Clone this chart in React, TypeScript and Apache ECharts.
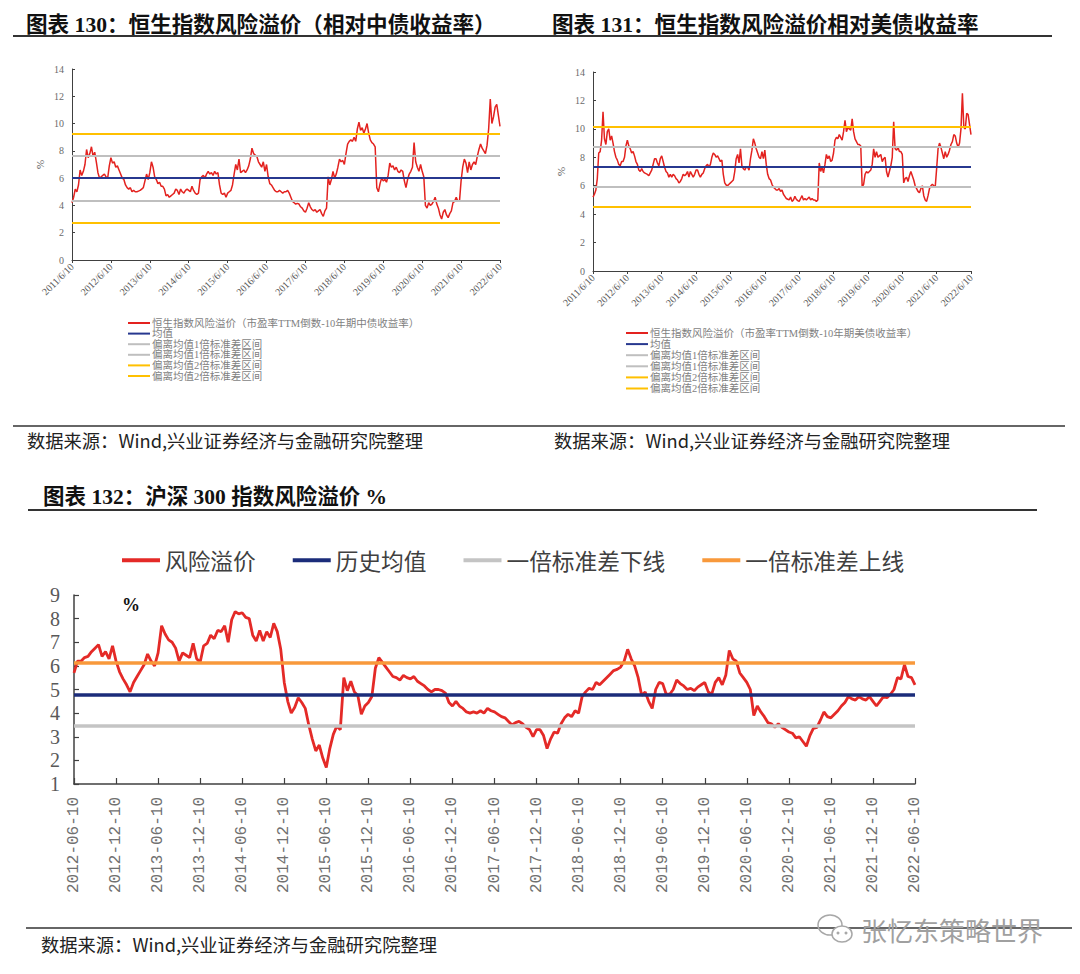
import React, { useEffect, useRef } from 'react';
import * as echarts from 'echarts';

// ---------- data ----------
// HSI risk premium vs 10Y China govt bond yield (semi-monthly, 2011/6/10 .. 2022/6/10)
const HK_CN: number[] = [
  4.2, 4.6, 5.2, 5.0, 5.5, 6.6, 6.2, 6.5, 7.0, 8.1,
  7.5, 7.8, 8.3, 7.6, 7.9, 7.2, 6.4, 6.0, 6.1, 6.2,
  6.3, 6.1, 6.0, 6.9, 7.5, 7.1, 7.2, 6.8, 6.9, 6.6,
  6.3, 6.0, 5.9, 5.5, 5.3, 5.2, 5.3, 5.0, 5.1, 5.0,
  5.0, 5.05, 5.1, 5.2, 5.3, 5.8, 6.3, 5.9, 6.4, 7.2,
  6.8, 6.1, 5.9, 5.6, 5.7, 5.4, 5.4, 5.2, 4.7, 4.8,
  4.6, 4.7, 4.8, 4.9, 5.2, 5.1, 4.8, 5.2, 5.0, 4.9,
  5.1, 5.2, 5.1, 5.0, 5.4, 5.1, 4.9, 4.8, 4.9, 5.9,
  6.1, 6.2, 6.0, 6.3, 6.5, 6.3, 6.4, 6.2, 6.5, 6.3,
  6.4, 5.5, 4.9, 4.8, 4.9, 4.6, 4.9, 5.0, 5.1, 5.5,
  6.3, 7.0, 6.6, 7.4, 6.4, 6.5, 6.6, 6.4, 6.6, 6.9,
  7.4, 8.2, 7.8, 7.7, 7.6, 7.2, 7.0, 6.8, 7.2, 6.5,
  7.0, 6.1, 5.6, 5.5, 5.3, 5.1, 5.0, 5.0, 5.1, 5.0,
  4.9, 5.0, 5.0, 5.1, 4.9, 4.6, 4.3, 4.2, 4.1, 4.15,
  4.1, 3.9, 3.8, 3.6, 3.5, 3.8, 4.2, 3.9, 3.7, 3.6,
  3.7, 3.5, 3.6, 3.7, 3.4, 3.2, 3.6, 3.8, 6.1, 5.5,
  5.9, 6.5, 6.0, 6.3, 6.8, 7.4, 7.2, 7.3, 7.0, 7.8,
  8.5, 8.7, 8.8, 8.7, 9.0, 8.7, 9.6, 10.1, 9.5, 9.7,
  9.3, 9.6, 10.0, 9.3, 8.8, 8.6, 8.5, 8.3, 5.3, 5.0,
  5.6, 6.0, 5.8, 5.9, 5.7, 6.2, 7.1, 6.8, 6.9, 6.6,
  6.8, 6.5, 6.4, 6.6, 6.5, 5.8, 5.3, 5.9, 6.3, 6.5,
  6.8, 8.6, 7.2, 6.8, 6.5, 7.0, 6.5, 6.1, 4.0, 3.8,
  4.2, 4.0, 4.1, 4.3, 4.6, 4.1, 3.8, 3.3, 3.0, 3.5,
  3.7, 3.3, 3.1, 3.4, 3.6, 4.2, 4.3, 4.6, 4.3, 4.3,
  5.8, 6.8, 7.4, 7.1, 6.4, 7.2, 6.6, 7.0, 7.2, 7.0,
  7.6, 8.1, 8.5, 8.2, 8.0, 7.8, 8.4, 9.6, 11.8, 10.0,
  10.5, 11.2, 11.4, 10.6, 9.8,
];
// HSI risk premium vs 10Y US treasury yield (semi-monthly, 2011/6/10 .. 2022/6/10)
const HK_US: number[] = [
  5.2, 5.4, 5.7, 6.5, 8.3, 8.4, 9.2, 11.2, 9.3, 8.9,
  9.8, 10.0, 9.2, 9.5, 9.0, 8.4, 8.0, 7.8, 7.5, 7.4,
  7.7, 7.7, 8.0, 8.8, 9.2, 8.8, 8.6, 8.3, 8.4, 8.1,
  7.7, 7.5, 7.1, 7.0, 7.2, 7.0, 6.9, 6.85, 6.8, 6.7,
  6.9, 7.1, 7.5, 7.9, 7.9, 7.6, 7.4, 7.9, 8.1, 7.7,
  7.3, 7.0, 6.9, 6.6, 6.8, 6.6, 6.8, 6.7, 6.5, 6.4,
  6.2, 6.3, 6.5, 6.8, 6.7, 6.8, 7.0, 6.6, 7.0, 6.8,
  6.6, 6.8, 7.1, 7.1, 6.8, 6.6, 6.8, 6.9, 7.2, 7.4,
  7.5, 7.3, 7.5, 8.0, 8.3, 8.2, 8.0, 8.1, 7.9, 7.7,
  7.8, 6.8, 6.2, 6.05, 6.0, 6.1, 6.2, 6.3, 6.4, 7.0,
  7.9, 8.2, 7.6, 8.6, 7.4, 7.2, 7.1, 7.3, 7.3, 7.1,
  7.9, 8.5, 9.3, 9.0, 8.6, 8.3, 8.0, 7.9, 8.4, 7.9,
  8.5, 7.5, 6.8, 6.5, 6.4, 6.1, 5.9, 5.8, 5.7, 5.7,
  5.8, 5.6, 5.7, 5.4, 5.25, 5.1, 5.05, 5.0, 5.2, 4.9,
  5.0, 5.25, 5.05, 4.95, 4.9, 5.1, 5.3, 5.0, 5.1, 5.0,
  5.1, 5.2, 5.0, 5.1, 5.0, 5.0, 4.9, 5.0, 7.6, 7.0,
  7.3, 6.9, 7.5, 8.2, 7.9, 8.1, 7.7, 7.8, 8.3, 9.2,
  9.4, 9.3, 9.6, 9.4, 9.2, 9.8, 10.6, 9.8, 10.1, 10.0,
  9.9, 10.7, 9.8, 9.3, 9.1, 8.9, 8.9, 8.8, 5.9, 6.1,
  6.8, 7.0, 6.9, 7.0, 7.1, 7.5, 8.6, 8.0, 8.4, 8.0,
  8.1, 8.2, 7.7, 7.9, 8.0, 7.0, 6.6, 7.0, 7.4, 8.0,
  10.5, 8.6, 8.5, 8.7, 8.4, 8.4, 8.2, 6.2, 6.5, 6.6,
  6.3, 6.7, 7.0, 6.7, 6.4, 6.0, 5.8, 5.6, 5.5, 5.8,
  6.0, 5.3, 5.0, 4.9, 5.3, 5.8, 6.0, 6.1, 6.0, 5.9,
  7.2, 8.6, 9.0, 8.7, 8.3, 7.9, 8.4, 8.0, 8.2, 8.5,
  8.9, 9.1, 9.6, 9.5, 9.0, 8.7, 9.0, 10.0, 12.5, 10.1,
  10.0, 11.1, 11.0, 10.3, 9.6,
];
// CSI 300 risk premium (semi-monthly, 2012-06-10 .. 2022-06-10)
const HS300: number[] = [
  5.7, 6.2, 6.2, 6.35, 6.4, 6.6, 6.75, 6.9, 6.4, 6.6,
  6.3, 6.85, 6.2, 5.75, 5.45, 5.2, 4.9, 5.3, 5.55, 5.8,
  6.05, 6.5, 6.2, 6.0, 6.55, 7.7, 7.35, 7.1, 7.0, 6.75,
  6.2, 6.55, 6.45, 6.35, 6.95, 6.3, 6.15, 6.85, 6.95, 7.3,
  7.15, 7.5, 7.45, 7.7, 7.0, 7.95, 8.3, 8.2, 8.25, 8.05,
  8.0, 7.3, 7.05, 7.5, 7.05, 7.45, 7.2, 7.8, 7.45, 6.7,
  5.3, 4.5, 4.0, 4.25, 4.65, 4.45, 4.2, 3.5, 2.9, 2.4,
  2.65, 2.1, 1.7, 2.5, 3.1, 3.45, 3.3, 5.5, 4.95, 5.35,
  4.9, 4.75, 3.95, 4.3, 4.45, 4.7, 5.9, 6.35, 6.15, 5.95,
  5.75, 5.55, 5.5, 5.4, 5.6, 5.5, 5.45, 5.55, 5.35, 5.25,
  5.15, 5.0, 4.9, 5.0, 5.0, 4.95, 4.85, 4.45, 4.3, 4.5,
  4.3, 4.2, 4.05, 4.0, 4.05, 4.0, 4.1, 4.0, 4.2, 4.1,
  4.05, 3.95, 3.85, 3.8, 3.65, 3.5, 3.6, 3.65, 3.55, 3.4,
  3.3, 3.0, 3.3, 3.3, 3.05, 2.5, 2.9, 3.2, 3.15, 3.55,
  3.8, 3.95, 3.85, 4.1, 4.0, 4.7, 4.9, 5.05, 5.0, 5.3,
  5.2, 5.35, 5.5, 5.65, 5.8, 5.85, 5.95, 6.2, 6.7, 6.3,
  6.0, 5.5, 4.75, 4.9, 4.5, 4.2, 5.0, 5.3, 5.25, 4.8,
  4.8, 5.0, 5.4, 5.25, 5.15, 5.0, 5.05, 4.95, 5.1, 5.2,
  5.3, 4.9, 4.8, 5.3, 5.5, 5.2, 5.6, 6.65, 6.3, 6.2,
  5.7, 5.5, 5.3, 5.0, 3.9, 4.3, 4.05, 3.85, 3.6, 3.55,
  3.4, 3.55, 3.4, 3.3, 3.2, 3.15, 2.95, 3.0, 2.8, 2.6,
  3.05, 3.35, 3.4, 3.7, 4.05, 3.85, 3.8, 3.95, 4.1, 4.3,
  4.45, 4.7, 4.6, 4.55, 4.7, 4.6, 4.55, 4.7, 4.5, 4.3,
  4.5, 4.7, 4.65, 4.8, 5.0, 5.5, 5.45, 6.05, 5.55, 5.5,
  5.2,
];

// band levels: +2sd, +1sd, mean, -1sd, -2sd
const HK_CN_BANDS = [9.27, 7.62, 6.0, 4.36, 2.7];
const HK_US_BANDS = [10.15, 8.75, 7.32, 5.9, 4.5];
const HS300_LEVELS = { upper: 6.13, mean: 4.79, lower: 3.45 };

const HK_CN_LEGEND = [
  '恒生指数风险溢价（市盈率TTM倒数-10年期中债收益率）',
  '均值',
  '偏离均值1倍标准差区间',
  '偏离均值1倍标准差区间',
  '偏离均值2倍标准差区间',
  '偏离均值2倍标准差区间',
];
const HK_US_LEGEND = [
  '恒生指数风险溢价（市盈率TTM倒数-10年期美债收益率）',
  '均值',
  '偏离均值1倍标准差区间',
  '偏离均值1倍标准差区间',
  '偏离均值2倍标准差区间',
  '偏离均值2倍标准差区间',
];
const HS300_LEGEND = ['风险溢价', '历史均值', '一倍标准差下线', '一倍标准差上线'];

const TITLE_1 = '图表 130：恒生指数风险溢价（相对中债收益率）';
const TITLE_2 = '图表 131：恒生指数风险溢价相对美债收益率';
const TITLE_3 = '图表 132：沪深 300 指数风险溢价 %';
const SOURCE = '数据来源：Wind,兴业证券经济与金融研究院整理';
const WATERMARK = '张忆东策略世界';

// ---------- helpers ----------
function semiMonthly(y0: number, m0: number, n: number, dash: boolean): string[] {
  const out: string[] = [];
  for (let i = 0; i < n; i++) {
    const mo = m0 - 1 + Math.floor(i / 2);
    const y = y0 + Math.floor(mo / 12);
    const m = (mo % 12) + 1;
    const d = i % 2 === 0 ? 10 : 25;
    out.push(dash ? `${y}-${String(m).padStart(2, '0')}-${d}` : `${y}/${m}/${d}`);
  }
  return out;
}

const HK_DATES = semiMonthly(2011, 6, HK_CN.length, false);
const HS_DATES = semiMonthly(2012, 6, HS300.length, true);

const SERIF = '"Liberation Serif","Times New Roman","Noto Sans CJK SC",serif';
const CJK = '"Noto Sans CJK SC",sans-serif';

const RED_S = '#E3221F';
const BLUE_S = '#27388F';
const GRAY_S = '#BFBFBF';
const YEL_S = '#FFC000';
const BAND_COLORS = [YEL_S, GRAY_S, BLUE_S, GRAY_S, YEL_S];
const LEG_COLORS = [RED_S, BLUE_S, GRAY_S, GRAY_S, YEL_S, YEL_S];

function bandMarkLine(levels: number[], colors: string[], width: number) {
  return {
    silent: true,
    symbol: 'none',
    label: { show: false },
    emphasis: { disabled: true },
    data: levels.map((v, i) => ({ yAxis: v, lineStyle: { color: colors[i], width, type: 'solid' } })),
  };
}

function smallLegend(x: number, y0: number, step: number, names: string[]) {
  const els: any[] = [];
  names.forEach((n, i) => {
    const y = y0 + i * step;
    els.push({ type: 'line', shape: { x1: x, y1: y, x2: x + 22, y2: y }, style: { stroke: LEG_COLORS[i], lineWidth: 2 }, silent: true });
    els.push({ type: 'text', x: x + 24, y, style: { text: n, fill: '#7F7F7F', fontSize: 10.5, fontFamily: SERIF, verticalAlign: 'middle' }, silent: true });
  });
  return els;
}

function hline(x1: number, x2: number, y: number, w: number, c = '#333333') {
  return { type: 'line', shape: { x1, y1: y, x2, y2: y }, style: { stroke: c, lineWidth: w }, silent: true };
}
function txt(x: number, y: number, text: string, size: number, opts: any = {}) {
  return {
    type: 'text', x, y, silent: true,
    style: { text, fontSize: size, fontFamily: opts.family || CJK, fontWeight: opts.weight || 'normal', fill: opts.fill || '#222', verticalAlign: 'middle', align: opts.align || 'left' },
  };
}

function smallAxes(gridIndex: number) {
  const x = {
    type: 'category', gridIndex, data: HK_DATES, boundaryGap: false,
    axisLine: { lineStyle: { color: '#404040', width: 1 } },
    axisTick: { interval: 23, length: 3, lineStyle: { color: '#404040' } },
    axisLabel: { interval: 23, rotate: 45, fontSize: 10, color: '#595959', fontFamily: SERIF, margin: 5 },
    splitLine: { show: false },
  };
  const y = {
    type: 'value', gridIndex, min: 0, max: 14, interval: 2,
    name: '%', nameLocation: 'middle', nameGap: 27, nameRotate: 90,
    nameTextStyle: { fontSize: 11, color: '#595959', fontFamily: SERIF },
    axisLine: { show: true, lineStyle: { color: '#404040', width: 1 } },
    axisTick: { show: true, inside: true, length: 3, lineStyle: { color: '#404040' } },
    axisLabel: { fontSize: 10, color: '#6a6a6a', fontFamily: SERIF, margin: 8 },
    splitLine: { show: false },
  };
  return { x, y };
}

export default function App() {
  const ref = useRef<HTMLDivElement>(null);
  useEffect(() => {
    if (!ref.current) return;
    const chart = echarts.init(ref.current, undefined, { renderer: 'svg' });
    const a0 = smallAxes(0);
    const a1 = smallAxes(1);

    const graphic: any[] = [
      txt(26, 25, TITLE_1, 21.6, { weight: 'bold', family: SERIF, fill: '#111' }),
      hline(13, 540, 36, 2),
      txt(552, 25, TITLE_2, 21.6, { weight: 'bold', family: SERIF, fill: '#111' }),
      hline(540, 1052, 36, 2),
      ...smallLegend(128, 323, 10.6, HK_CN_LEGEND),
      ...smallLegend(626, 333, 11.1, HK_US_LEGEND),
      hline(13, 1065, 426, 1.5),
      txt(27, 440, SOURCE, 18.3, { fill: '#222' }),
      txt(554, 440, SOURCE, 18.3, { fill: '#222' }),
      txt(43, 497, TITLE_3, 21.5, { weight: 'bold', family: SERIF, fill: '#111' }),
      hline(28, 1037, 510, 2),
      txt(122, 605, '%', 18, { weight: 'bold', family: SERIF, fill: '#111' }),
      hline(26, 1072, 928, 1.5),
      txt(41, 944, SOURCE, 18.3, { fill: '#222' }),
      { type: 'ellipse', shape: { cx: 830, cy: 925, rx: 12, ry: 10 }, style: { fill: 'none', stroke: '#A8A8A8', lineWidth: 1.5 }, silent: true },
      { type: 'ellipse', shape: { cx: 842, cy: 934, rx: 10, ry: 8 }, style: { fill: '#fff', stroke: '#A8A8A8', lineWidth: 1.5 }, silent: true },
      { type: 'circle', shape: { cx: 838, cy: 933, r: 1.5 }, style: { fill: '#A8A8A8' }, silent: true },
      { type: 'circle', shape: { cx: 846, cy: 933, r: 1.5 }, style: { fill: '#A8A8A8' }, silent: true },
      txt(861, 929, WATERMARK, 26, { fill: '#A0A0A0' }),
    ];

    chart.setOption({
      animation: false,
      backgroundColor: '#ffffff',
      grid: [
        { left: 72, top: 69, width: 428, height: 191 },
        { left: 593, top: 72, width: 378, height: 199 },
        { left: 74, top: 595, width: 841, height: 189 },
      ],
      legend: {
        data: HS300_LEGEND,
        left: 122, top: 549, padding: 0,
        icon: 'rect', itemWidth: 38, itemHeight: 4, itemGap: 37,
        textStyle: { fontSize: 22.7, color: '#404040', fontFamily: CJK },
        selectedMode: false,
      },
      xAxis: [
        a0.x,
        a1.x,
        {
          type: 'category', gridIndex: 2, data: HS_DATES, boundaryGap: false,
          axisLine: { lineStyle: { color: '#404040', width: 1.5 } },
          axisTick: { interval: 11, inside: true, length: 6, lineStyle: { color: '#404040', width: 1.2 } },
          axisLabel: { interval: 11, rotate: 90, fontSize: 16, color: '#707070', fontFamily: '"Liberation Mono","DejaVu Sans Mono",monospace', margin: 13 },
          splitLine: { show: false },
        },
      ],
      yAxis: [
        a0.y,
        a1.y,
        {
          type: 'value', gridIndex: 2, min: 1, max: 9, interval: 1,
          axisLine: { show: true, lineStyle: { color: '#404040', width: 1.5 } },
          axisTick: { show: true, inside: true, length: 5, lineStyle: { color: '#404040', width: 1.2 } },
          axisLabel: { fontSize: 20, color: '#595959', fontFamily: SERIF, margin: 14 },
          splitLine: { show: false },
        },
      ],
      graphic,
      series: [
        {
          name: 'hk_cn', type: 'line', xAxisIndex: 0, yAxisIndex: 0, data: HK_CN,
          showSymbol: false, symbol: 'none', z: 2,
          lineStyle: { color: RED_S, width: 1.5 }, itemStyle: { color: RED_S },
          markLine: { ...bandMarkLine(HK_CN_BANDS, BAND_COLORS, 2), z: 5 },
        },
        {
          name: 'hk_us', type: 'line', xAxisIndex: 1, yAxisIndex: 1, data: HK_US,
          showSymbol: false, symbol: 'none', z: 2,
          lineStyle: { color: RED_S, width: 1.5 }, itemStyle: { color: RED_S },
          markLine: { ...bandMarkLine(HK_US_BANDS, BAND_COLORS, 2), z: 5 },
        },
        {
          name: '风险溢价', type: 'line', xAxisIndex: 2, yAxisIndex: 2, data: HS300,
          showSymbol: false, symbol: 'none', z: 2,
          lineStyle: { color: '#E42A27', width: 2.8 }, itemStyle: { color: '#E42A27' },
        },
        {
          name: '历史均值', type: 'line', xAxisIndex: 2, yAxisIndex: 2, data: [], z: 4,
          lineStyle: { color: '#1B2C7A' }, itemStyle: { color: '#1B2C7A' },
          markLine: bandMarkLine([HS300_LEVELS.mean], ['#1B2C7A'], 3.5),
        },
        {
          name: '一倍标准差下线', type: 'line', xAxisIndex: 2, yAxisIndex: 2, data: [], z: 4,
          lineStyle: { color: '#C4C4C4' }, itemStyle: { color: '#C4C4C4' },
          markLine: bandMarkLine([HS300_LEVELS.lower], ['#C4C4C4'], 3.5),
        },
        {
          name: '一倍标准差上线', type: 'line', xAxisIndex: 2, yAxisIndex: 2, data: [], z: 4,
          lineStyle: { color: '#F8993B' }, itemStyle: { color: '#F8993B' },
          markLine: bandMarkLine([HS300_LEVELS.upper], ['#F8993B'], 3.5),
        },
      ],
    });
    return () => chart.dispose();
  }, []);
  return (
    <div
      ref={ref}
      style={{ position: 'absolute', left: 0, top: 0, width: 1080, height: 974, background: '#fff' }}
    />
  );
}
